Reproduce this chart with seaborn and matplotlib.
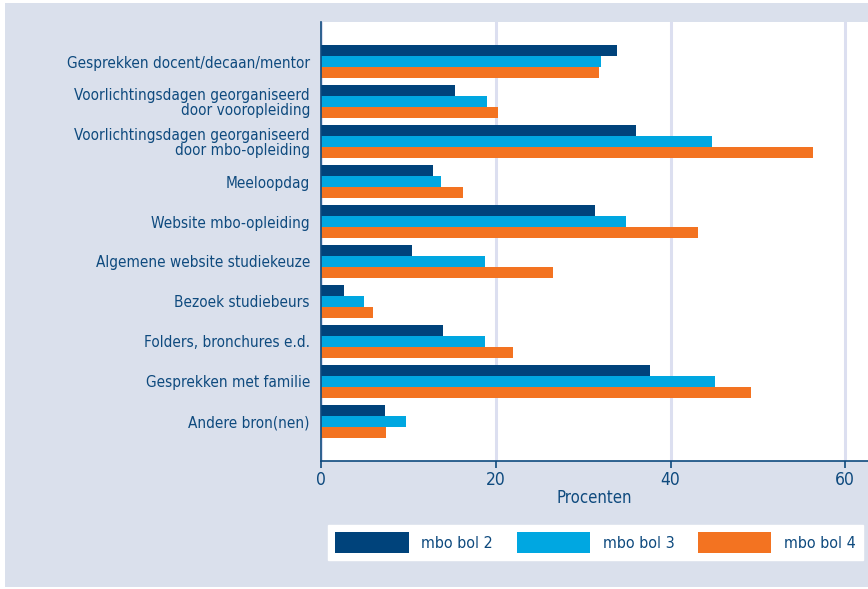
import pandas as pd
import numpy as np
import matplotlib.pyplot as plt
import seaborn as sns
from matplotlib.patches import Rectangle
from matplotlib import font_manager

# categories and values (percentages)
categories = [
    'Gesprekken docent/decaan/mentor',
    'Voorlichtingsdagen georganiseerd\ndoor vooropleiding',
    'Voorlichtingsdagen georganiseerd\ndoor mbo-opleiding',
    'Meeloopdag',
    'Website mbo-opleiding',
    'Algemene website studiekeuze',
    'Bezoek studiebeurs',
    'Folders, bronchures e.d.',
    'Gesprekken met familie',
    'Andere bron(nen)',
]
series = ['mbo bol 2', 'mbo bol 3', 'mbo bol 4']
bol2 = [33.9, 15.3, 36.0, 12.8, 31.4, 10.4, 2.6, 14.0, 37.6, 7.3]
bol3 = [32.1, 19.0, 44.7, 13.7, 34.9, 18.8, 4.9, 18.8, 45.1, 9.7]
bol4 = [31.8, 20.2, 56.3, 16.2, 43.1, 26.6, 5.9, 22.0, 49.2, 7.4]
xticks = [0, 20, 40, 60]

colors = ['#00437b', '#00a7e1', '#f37321']
text_col = '#0e4a7e'
bg_col = '#dae0ec'
grid_col = '#dcdff0'

df = pd.DataFrame({'categorie': categories * 3,
                   'reeks': np.repeat(series, len(categories)),
                   'waarde': bol2 + bol3 + bol4})

sns.set_theme(style='white')
fonts = font_manager.fontManager.ttflist
names = {f.name for f in fonts}
if 'Liberation Sans Narrow' in names:
    plt.rcParams['font.family'] = ['Liberation Sans Narrow', 'DejaVu Sans']
else:
    plt.rcParams['font.family'] = ['DejaVu Sans']
    if any(f.name == 'DejaVu Sans' and f.stretch == 'condensed' for f in fonts):
        plt.rcParams['font.stretch'] = 'condensed'

fig = plt.figure(figsize=(8.68, 5.89), dpi=100, facecolor='white')
fig.patches.append(Rectangle((5 / 868, 2 / 589), 863 / 868, 584 / 589,
                             transform=fig.transFigure, facecolor=bg_col,
                             edgecolor='none', zorder=-10))
ax = fig.add_axes([321 / 868, (589 - 461) / 589, 547 / 868, 439 / 589])

sns.barplot(data=df, y='categorie', x='waarde', hue='reeks', palette=colors,
            orient='h', width=0.825, saturation=1, linewidth=0,
            ax=ax, legend=False)

ax.set_xlim(0, 62.6)
ax.set_ylim(10, -1)
ax.set_xticks(xticks)
ax.set_xticklabels([str(t) for t in xticks], color=text_col, fontsize=12.5)
ax.tick_params(axis='x', bottom=True, length=5, width=1.2, color=text_col, pad=2)
ax.tick_params(axis='y', left=False, length=0, pad=8)
for lab in ax.get_yticklabels():
    lab.set_color(text_col)
    lab.set_fontsize(11)
    lab.set_linespacing(1.0)
ax.set_ylabel('')
ax.set_xlabel('Procenten', color=text_col, fontsize=12, labelpad=0)
ax.xaxis.grid(True, color=grid_col, linewidth=2.2)
ax.set_axisbelow(True)
for s in ['top', 'right']:
    ax.spines[s].set_visible(False)
for s in ['left', 'bottom']:
    ax.spines[s].set_color(text_col)
    ax.spines[s].set_linewidth(1.2)

# legend box
handles = [Rectangle((0, 0), 1, 1, facecolor=c, edgecolor='none') for c in colors]
leg = fig.legend(handles, series, loc='center', ncol=3, mode='expand',
                 bbox_to_anchor=(328 / 868, (589 - 563) / 589, 535 / 868, 41 / 589),
                 frameon=True, fancybox=False, framealpha=1,
                 handlelength=4.6, handleheight=1.7,
                 handletextpad=0.8, columnspacing=1.8, fontsize=11.5,
                 borderpad=0.45, borderaxespad=0, labelcolor=text_col)
leg.get_frame().set_facecolor('white')
leg.get_frame().set_edgecolor('white')

plt.savefig('out.png', dpi=100, facecolor=fig.get_facecolor())
